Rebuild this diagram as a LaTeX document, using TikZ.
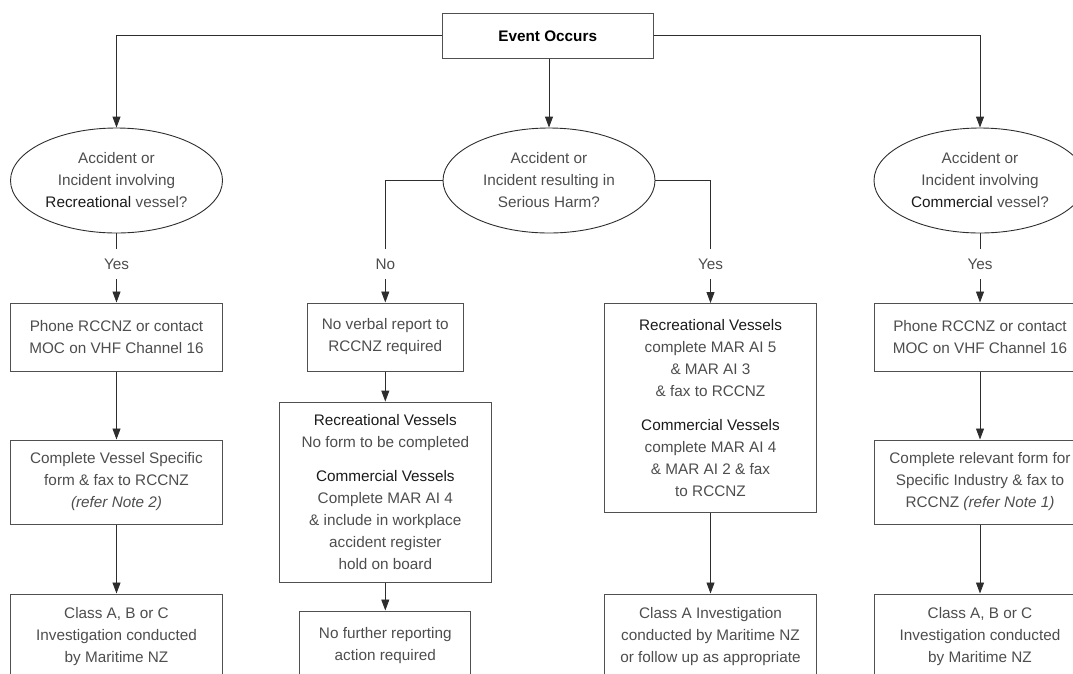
\documentclass[tikz,border=0pt]{standalone}
\usepackage{fontspec}
\setmainfont{Liberation Sans}
\usetikzlibrary{shapes.geometric,arrows.meta}
\definecolor{txt}{RGB}{77,77,77}
\definecolor{emp}{RGB}{26,26,26}
\definecolor{ln}{RGB}{45,45,45}
\definecolor{bd}{RGB}{80,80,80}
\newcommand{\kw}[1]{{\color{emp}#1}}
\begin{document}
\begin{tikzpicture}[x=1pt,y=-1pt,
  every node/.style={font=\fontsize{15.3}{22}\selectfont, text=txt},
  box/.style={draw=bd, line width=1pt, rectangle, align=center, inner sep=0pt},
  oval/.style={draw=ln, line width=0.9pt, ellipse, minimum width=212pt, minimum height=105pt, inner sep=0pt, align=center},
  lab/.style={inner sep=0pt, minimum height=30pt},
  conn/.style={draw=ln, line width=0.9pt},
  arr/.style={conn, -{Triangle[length=11pt,width=8pt]}},
]
\useasboundingbox (0,0) rectangle (1073,673);
\clip (0,0) rectangle (1073,673);

% top
\node[box, minimum width=210.7pt, minimum height=44.5pt] (event) at (547.7,35.75) {\textbf{\color{black}Event Occurs}};

% decisions
\node[oval] (ellL) at (116.5,180.5) {Accident or\\Incident involving\\\kw{Recreational} vessel?};
\node[oval] (ellM) at (549,180.5) {Accident or\\Incident resulting in\\Serious Harm?};
\node[oval] (ellR) at (980,180.5) {Accident or\\Incident involving\\\kw{Commercial} vessel?};

% branch labels
\node[lab] (yesL) at (116.5,264) {Yes};
\node[lab] (noML) at (385.3,264) {No};
\node[lab] (yesMR) at (710.5,264) {Yes};
\node[lab] (yesR) at (980,264) {Yes};

% left column
\node[box, minimum width=211.5pt, minimum height=68pt] (L1) at (116.5,337) {Phone RCCNZ or contact\\MOC on VHF Channel 16};
\node[box, minimum width=211.5pt, minimum height=84pt] (L2) at (116.5,482) {Complete Vessel Specific\\form \& fax to RCCNZ\\\textit{(refer Note 2)}};
\node[box, minimum width=211.5pt, minimum height=85pt] (L3) at (116.5,636.5) {Class A, B or C\\Investigation conducted\\by Maritime NZ};

% middle-left column
\node[box, minimum width=155.4pt, minimum height=68pt] (ML1) at (385.3,337) {No verbal report to\\RCCNZ required};
\node[box, minimum width=211.7pt, minimum height=180.3pt] (ML2) at (385.3,492.2) {\kw{Recreational Vessels}\\No form to be completed\\[12pt]\kw{Commercial Vessels}\\Complete MAR AI 4\\\& include in workplace\\accident register\\hold on board};
\node[box, minimum width=171pt, minimum height=70pt] (ML3) at (385.3,646) {No further reporting\\action required};

% middle-right column
\node[box, minimum width=211.7pt, minimum height=209pt] (MR1) at (710.5,408) {\kw{Recreational Vessels}\\complete MAR AI 5\\\& MAR AI 3\\\& fax to RCCNZ\\[12pt]\kw{Commercial Vessels}\\complete MAR AI 4\\\& MAR AI 2 \& fax\\to RCCNZ};
\node[box, minimum width=211.7pt, minimum height=85pt] (MR2) at (710.5,636.5) {Class A Investigation\\conducted by Maritime NZ\\or follow up as appropriate};

% right column
\node[box, minimum width=212pt, minimum height=68pt] (R1) at (980,337) {Phone RCCNZ or contact\\MOC on VHF Channel 16};
\node[box, minimum width=212pt, minimum height=84pt] (R2) at (980,482) {Complete relevant form for\\Specific Industry \& fax to\\RCCNZ \textit{(refer Note 1)}};
\node[box, minimum width=212pt, minimum height=85pt] (R3) at (980,636.5) {Class A, B or C\\Investigation conducted\\by Maritime NZ};

% connectors
\draw[arr] (event.west) -| (ellL.north);
\draw[arr] (event.east) -| (ellR.north);
\draw[arr] (ellM.north |- event.south) -- (ellM.north);

\draw[conn] (ellL.south) -- (yesL.north);
\draw[arr] (yesL.south) -- (L1.north);
\draw[conn] (ellM.west) -| (noML.north);
\draw[arr] (noML.south) -- (ML1.north);
\draw[conn] (ellM.east) -| (yesMR.north);
\draw[arr] (yesMR.south) -- (MR1.north);
\draw[conn] (ellR.south) -- (yesR.north);
\draw[arr] (yesR.south) -- (R1.north);

\draw[arr] (L1.south) -- (L2.north);
\draw[arr] (L2.south) -- (L3.north);
\draw[arr] (ML1.south) -- (ML2.north);
\draw[arr] (ML2.south) -- (ML3.north);
\draw[arr] (MR1.south) -- (MR2.north);
\draw[arr] (R1.south) -- (R2.north);
\draw[arr] (R2.south) -- (R3.north);
\end{tikzpicture}
\end{document}
